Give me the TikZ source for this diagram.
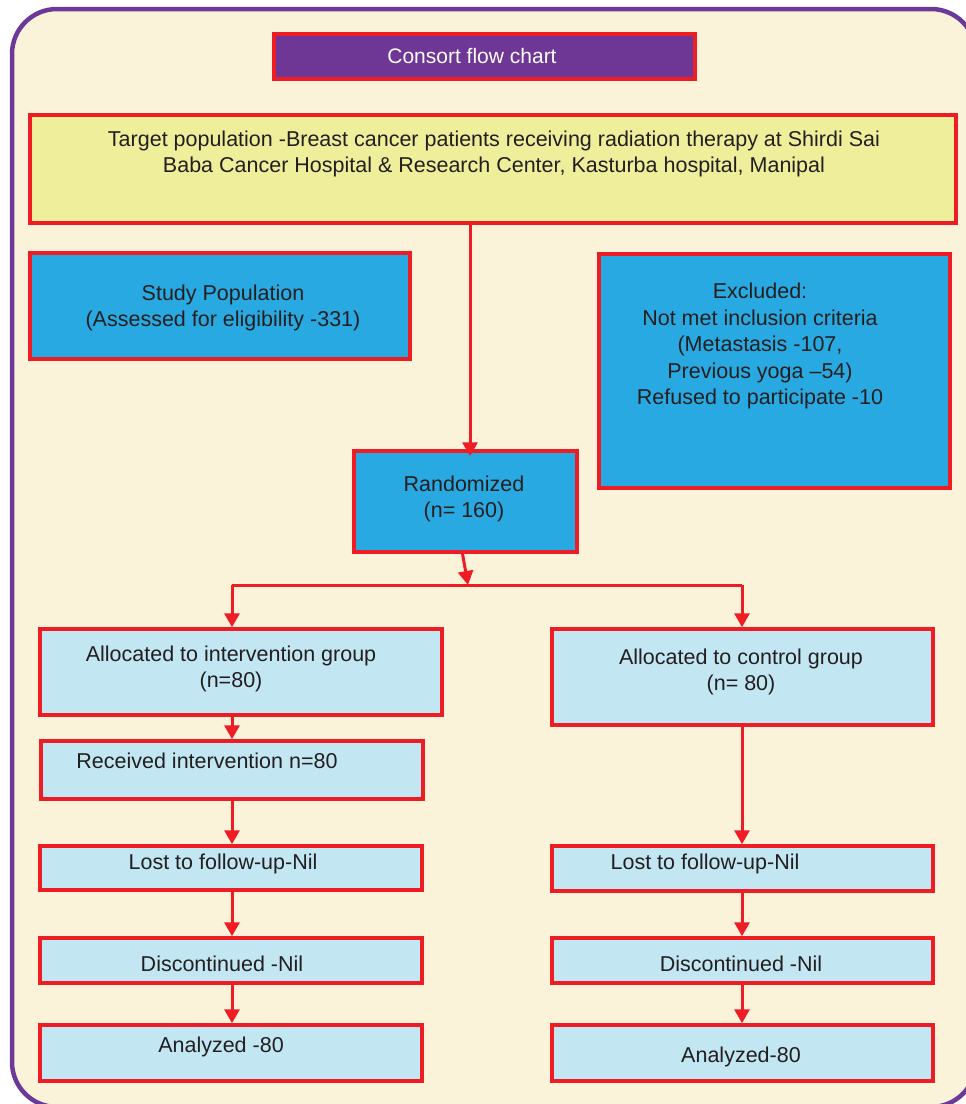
\documentclass[tikz,border=0pt]{standalone}
\usepackage{fontspec}
\setmainfont{Liberation Sans}
\usetikzlibrary{arrows.meta}
\definecolor{framepurple}{HTML}{6C3A96}
\definecolor{titlepurple}{HTML}{6E3795}
\definecolor{boxred}{HTML}{EE1D25}
\definecolor{cream}{HTML}{FBF2DA}
\definecolor{yellowbox}{HTML}{EFEF9B}
\definecolor{bluebox}{HTML}{29A9E1}
\definecolor{lightbox}{HTML}{C2E6F2}
\definecolor{txt}{HTML}{231F20}
\tikzset{
  boxbase/.style={draw=boxred, line width=3.5pt, rectangle, inner sep=0pt},
  ybox/.style={boxbase, fill=yellowbox},
  bbox/.style={boxbase, fill=bluebox},
  lbox/.style={boxbase, fill=lightbox},
  pbox/.style={boxbase, fill=titlepurple},
  lbl/.style={inner sep=0pt, align=center, text=txt, font=\fontsize{21.5}{26.5}\selectfont},
  arr/.style={draw=boxred, line width=3pt, -{Triangle[width=15pt,length=14pt]}},
  ln/.style={draw=boxred, line width=3pt}
}
\newcommand{\boxat}[6]{% style, name, x1, y1, x2, y2
  \node[#1, minimum width={(#5-#3)*1pt}, minimum height={(#6-#4)*1pt}] (#2) at ({(#3+#5)/2},{(#4+#6)/2}) {};}
\begin{document}
\begin{tikzpicture}[x=1pt,y=-1pt]
\useasboundingbox (0,0) rectangle (966,1104);
\clip (0,0) rectangle (966,1104);
\draw[framepurple, line width=4.5pt, fill=cream, rounded corners=45pt] (12,9) rectangle (976,1107);

% boxes
\boxat{pbox}{title}{274}{34}{695}{79}
\boxat{ybox}{target}{30}{115}{956}{223}
\boxat{bbox}{study}{30}{253}{410}{359}
\boxat{bbox}{excl}{599}{254}{950}{488}
\boxat{bbox}{rand}{354}{451}{577}{552}
\boxat{lbox}{alloci}{40}{629}{442}{715}
\boxat{lbox}{recv}{41}{741}{423}{799}
\boxat{lbox}{lostl}{40}{846}{422}{890}
\boxat{lbox}{discl}{40}{938}{422}{983}
\boxat{lbox}{anal}{40}{1025}{422}{1081}
\boxat{lbox}{allocc}{552}{629}{933}{725}
\boxat{lbox}{lostr}{552}{846}{933}{891}
\boxat{lbox}{discr}{552}{938}{933}{983}
\boxat{lbox}{anar}{552}{1025}{933}{1081}

% texts
\node[lbl, text=white, font=\fontsize{21}{24}\selectfont] (ttitle) at (472,56) {Consort flow chart};
\node[lbl] (ttarget) at (494,154) {Target population -Breast cancer patients receiving radiation therapy at Shirdi Sai\\Baba Cancer Hospital \& Research Center, Kasturba hospital, Manipal};
\node[lbl] (tstudy) at (223,308) {Study Population\\(Assessed for eligibility -331)};
\node[lbl] (texcl) at (760,346) {Excluded:\\Not met inclusion criteria\\(Metastasis -107,\\Previous yoga --54)\\Refused to participate -10};
\node[lbl] (trand) at (464,499) {Randomized\\(n= 160)};
\node[lbl] (talloci) at (231,669) {Allocated to intervention group\\(n=80)};
\node[lbl] (trecv) at (207,761) {Received intervention n=80};
\node[lbl] (tlostl) at (223,864) {Lost to follow-up-Nil};
\node[lbl] (tdiscl) at (222,964) {Discontinued -Nil};
\node[lbl] (tanal) at (221,1047) {Analyzed -80};
\node[lbl] (tallocc) at (741,672) {Allocated to control group\\(n= 80)};
\node[lbl] (tlostr) at (705,864) {Lost to follow-up-Nil};
\node[lbl] (tdiscr) at (741,964) {Discontinued -Nil};
\node[lbl] (tanar) at (741,1057) {Analyzed-80};

% connector points
\coordinate (tgt) at (470,223);
\coordinate (split) at (468,585);
\coordinate (splitl) at (232,585);
\coordinate (splitr) at (742,585);

% connectors
\draw[arr] (target.south -| tgt) -- ([yshift=-7pt]rand.north -| tgt);
\draw[ln] (splitl) -- (splitr);
\draw[arr] ([xshift=-3pt]rand.south) -- (split);
\draw[arr] (splitl) -- (alloci.north -| splitl);
\draw[arr] (splitr) -- (allocc.north -| splitr);
\draw[arr] (alloci.south -| splitl) -- (recv.north -| splitl);
\draw[arr] (recv.south -| splitl) -- (lostl.north -| splitl);
\draw[arr] (lostl.south -| splitl) -- (discl.north -| splitl);
\draw[arr] (discl.south -| splitl) -- (anal.north -| splitl);
\draw[arr] (allocc.south -| splitr) -- (lostr.north -| splitr);
\draw[arr] (lostr.south -| splitr) -- (discr.north -| splitr);
\draw[arr] (discr.south -| splitr) -- (anar.north -| splitr);
\end{tikzpicture}
\end{document}
